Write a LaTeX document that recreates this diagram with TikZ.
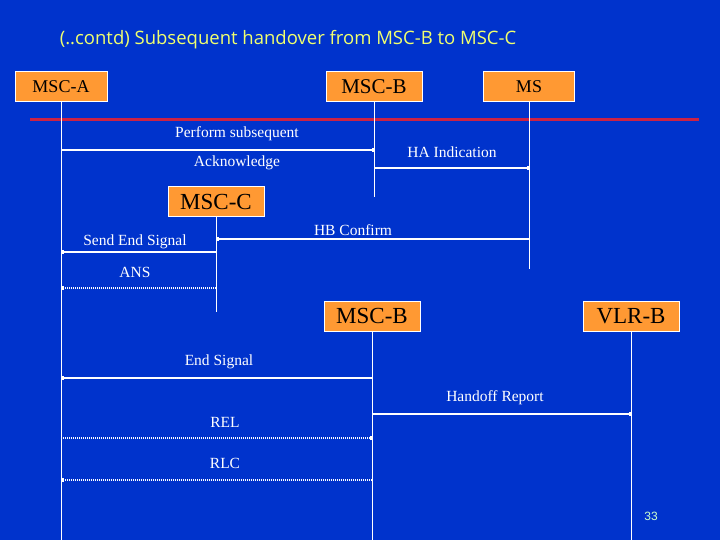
\documentclass[tikz,border=0pt]{standalone}
\usepackage{fontspec}
\setmainfont{Liberation Serif}
\newfontfamily\slidefont{Open Sans}
\newfontfamily\numfont{Liberation Sans}
\usetikzlibrary{arrows.meta}
\definecolor{slideblue}{RGB}{0,51,204}
\definecolor{boxorange}{RGB}{255,153,51}
\definecolor{barred}{RGB}{204,34,68}
\definecolor{titleyellow}{RGB}{240,255,110}
\definecolor{pagegreen}{RGB}{204,255,204}
\tikzset{>={Square[length=2.5pt,width=3.5pt]}}
\tikzset{
  ent/.style={draw=white, line width=1pt, fill=boxorange, text=black,
    minimum height=30pt, inner sep=0pt},
  life/.style={white, line width=1pt},
  msg/.style={white, line width=2pt},
  dotmsg/.style={msg, dash pattern=on 1pt off 1pt},
  lbl/.style={text=white, font=\fontsize{15.5}{18}\selectfont},
}

\begin{document}
\begin{tikzpicture}[x=1pt,y=-1pt]
    \fill[slideblue] (0,0) rectangle (720,540);
    \useasboundingbox (0,0) rectangle (720,540);
    \node[text=titleyellow, font=\slidefont\fontsize{18.5}{22}\selectfont] (title) at (288,40) {(..contd) Subsequent handover from MSC-B to MSC-C};
    \node[ent, minimum width=92pt, font=\fontsize{18}{20}\selectfont] (msca) at (61,87) {MSC-A};
    \node[ent, minimum width=96pt, font=\fontsize{21}{22}\selectfont] (mscb) at (374,87) {MSC-B};
    \node[ent, minimum width=91pt, font=\fontsize{18}{20}\selectfont] (ms) at (529,87) {MS};
    \draw[barred, line width=3pt] (30,120) -- (699,120);
    \node[ent, minimum width=96pt, font=\fontsize{23}{24}\selectfont] (mscc) at (216,202) {MSC-C};
    \node[ent, minimum width=96pt, font=\fontsize{23}{24}\selectfont] (mscbb) at (372,316) {MSC-B};
    \node[ent, minimum width=96pt, font=\fontsize{23}{24}\selectfont] (vlrb) at (631,316) {VLR-B};
    % lifelines
    \coordinate (msca end) at (61,540);
    \coordinate (mscb end) at (374,197);
    \coordinate (ms end) at (529,269);
    \coordinate (mscc end) at (216,312);
    \coordinate (mscbb end) at (372,540);
    \coordinate (vlrb end) at (631,540);
    \draw[life] (msca) -- (msca end);
    \draw[life] (mscb) -- (mscb end);
    \draw[life] (ms) -- (ms end);
    \draw[life] (mscc) -- (mscc end);
    \draw[life] (mscbb) -- (mscbb end);
    \draw[life] (vlrb) -- (vlrb end);
    % messages
    \coordinate (perf) at (0,150);
    \coordinate (haind) at (0,168);
    \coordinate (hbconf) at (0,239);
    \coordinate (sendend) at (0,252);
    \coordinate (ans) at (0,288);
    \coordinate (endsig) at (0,378);
    \coordinate (handoff) at (0,414);
    \coordinate (rel) at (0,438);
    \coordinate (rlc) at (0,480);
    \node[lbl] (perf label) at (237,134) {Perform subsequent};
    \node[lbl] (ack label) at (237,163) {Acknowledge};
    \node[lbl] (haind label) at (452,152) {HA Indication};
    \node[lbl] (hbconf label) at (353,230) {HB Confirm};
    \node[lbl] (sendend label) at (135,242) {Send End Signal};
    \node[lbl] (ans label) at (135,272) {ANS};
    \node[lbl] (endsig label) at (219,362) {End Signal};
    \node[lbl] (handoff label) at (495,398) {Handoff Report};
    \node[lbl] (rel label) at (225,422) {REL};
    \node[lbl] (rlc label) at (225,463) {RLC};
    \draw[msg,->] (msca |- perf) -- (mscb |- perf);
    \draw[msg,->] (mscb |- haind) -- (ms |- haind);
    \draw[msg,->] (ms |- hbconf) -- (mscc |- hbconf);
    \draw[msg,->] (mscc |- sendend) -- (msca |- sendend);
    \draw[dotmsg,->] (mscc |- ans) -- (msca |- ans);
    \draw[msg,->] (mscbb |- endsig) -- (msca |- endsig);
    \draw[msg,->] (mscbb |- handoff) -- (vlrb |- handoff);
    \draw[dotmsg,->] (msca |- rel) -- (mscbb |- rel);
    \draw[dotmsg,->] (mscbb |- rlc) -- (msca |- rlc);
    \node[text=pagegreen, font=\numfont\fontsize{12}{14}\selectfont] (pageno) at (651,516) {33};
  \end{tikzpicture}
\end{document}
